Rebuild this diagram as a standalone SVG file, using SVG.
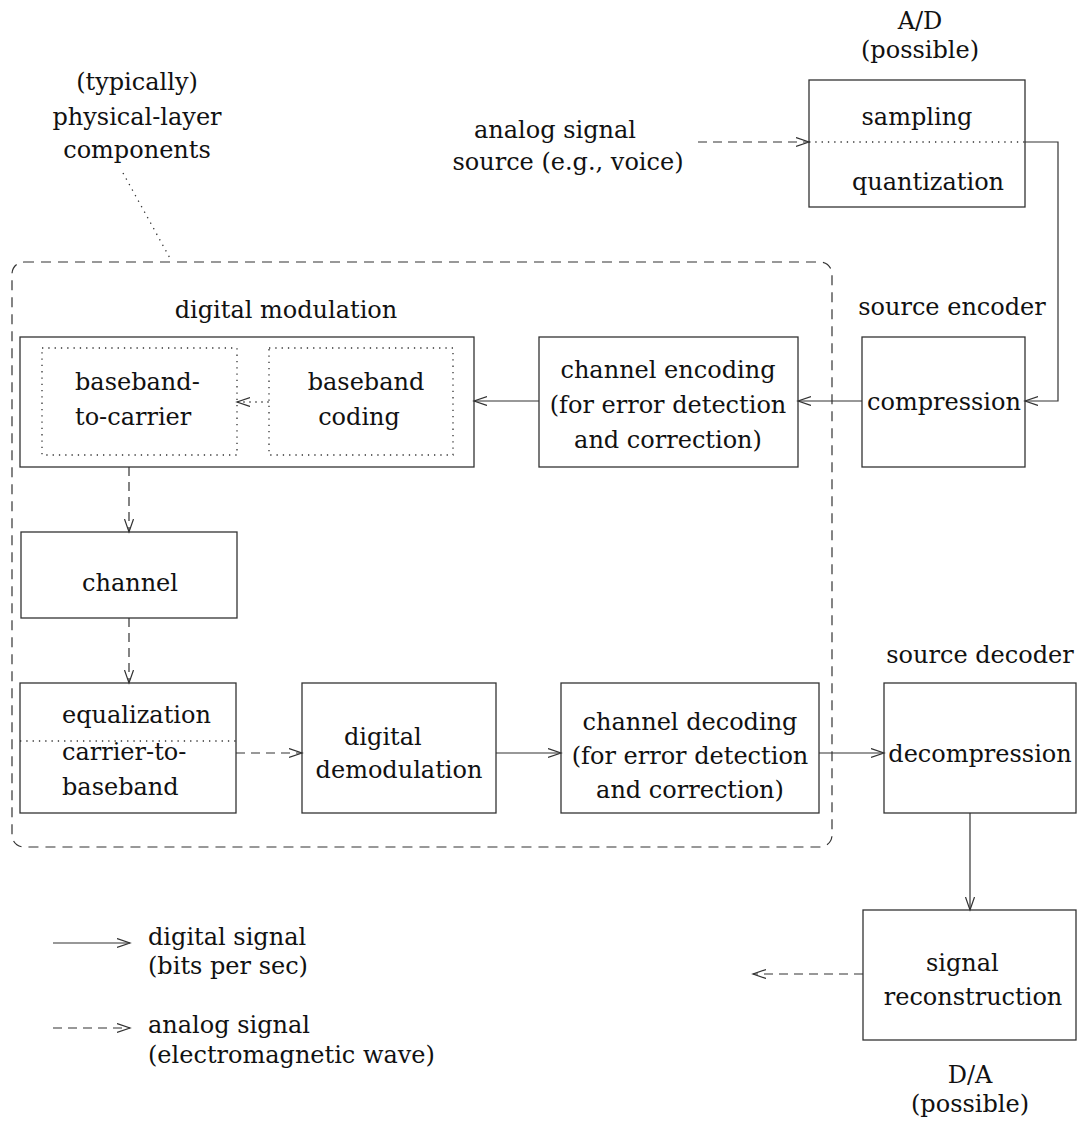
<svg xmlns="http://www.w3.org/2000/svg" width="1087" height="1128" viewBox="0 0 1087 1128">
<style>
text{font-family:'DejaVu Serif','Liberation Serif',serif;font-size:24px;fill:#111}
.c{text-anchor:middle}
.box{fill:none;stroke:#333;stroke-width:1.3}
.dot{fill:none;stroke:#333;stroke-width:1.3;stroke-dasharray:1.3 5}
.sol{fill:none;stroke:#333;stroke-width:1.2}
.dash{fill:none;stroke:#333;stroke-width:1.2;stroke-dasharray:9 6}
</style>
<defs>
<marker id="ah" markerUnits="userSpaceOnUse" markerWidth="16" markerHeight="12" refX="13" refY="5" orient="auto">
<path d="M0,0.5 L13,5 L0,9.5" fill="none" stroke="#333" stroke-width="1.2"/>
</marker>
</defs>
<rect width="1087" height="1128" fill="#fff"/>

<g id="annotation">
<text class="c" x="137" y="90">(typically)</text>
<text class="c" x="137" y="125">physical-layer</text>
<text class="c" x="137" y="158">components</text>
</g>

<g id="physical-layer-group">
<rect x="12" y="262" width="820" height="585" rx="12" ry="12" fill="none" stroke="#333" stroke-width="1.2" stroke-dasharray="10 7"/>
</g>

<g id="ad-label">
<text class="c" x="920" y="29">A/D</text>
<text class="c" x="920" y="58">(possible)</text>
</g>

<g id="analog-source">
<text class="c" x="555" y="138">analog signal</text>
<text class="c" x="568" y="170">source (e.g., voice)</text>
</g>

<g id="ad-box">
<rect class="box" x="809" y="80" width="216" height="127"/>
<line class="dot" x1="809" y1="142" x2="1025" y2="142"/>
<text class="c" x="917" y="125">sampling</text>
<text class="c" x="928" y="190">quantization</text>
</g>

<g id="source-encoder">
<text class="c" x="952" y="315">source encoder</text>
<rect class="box" x="862" y="337" width="163" height="130"/>
<text class="c" x="944" y="410">compression</text>
</g>

<g id="channel-encoding">
<rect class="box" x="539" y="337" width="259" height="130"/>
<text class="c" x="668" y="378">channel encoding</text>
<text class="c" x="668" y="413">(for error detection</text>
<text class="c" x="668" y="448">and correction)</text>
</g>

<g id="digital-modulation">
<text class="c" x="286" y="318">digital modulation</text>
<rect class="box" x="20" y="337" width="454" height="130"/>
</g>

<g id="baseband-to-carrier">
<rect class="dot" x="42" y="348" width="195" height="107"/>
<text x="75" y="390">baseband-</text>
<text x="75" y="425">to-carrier</text>
</g>

<g id="baseband-coding">
<rect class="dot" x="269" y="348" width="184" height="107"/>
<text class="c" x="366" y="390">baseband</text>
<text class="c" x="359" y="425">coding</text>
</g>

<g id="channel">
<rect class="box" x="21" y="532" width="216" height="86"/>
<text class="c" x="130" y="591">channel</text>
</g>

<g id="equalization">
<rect class="box" x="20" y="683" width="216" height="130"/>
<line class="dot" x1="20" y1="741" x2="236" y2="741"/>
<text x="62" y="723">equalization</text>
<text x="62" y="760">carrier-to-</text>
<text x="62" y="795">baseband</text>
</g>

<g id="digital-demodulation">
<rect class="box" x="302" y="683" width="194" height="130"/>
<text x="344" y="745">digital</text>
<text class="c" x="399" y="778">demodulation</text>
</g>

<g id="channel-decoding">
<rect class="box" x="561" y="683" width="258" height="130"/>
<text class="c" x="690" y="730">channel decoding</text>
<text class="c" x="690" y="764">(for error detection</text>
<text class="c" x="690" y="798">and correction)</text>
</g>

<g id="source-decoder">
<text class="c" x="980" y="663">source decoder</text>
<rect class="box" x="884" y="683" width="192" height="130"/>
<text class="c" x="980" y="762">decompression</text>
</g>

<g id="signal-reconstruction">
<rect class="box" x="863" y="910" width="213" height="130"/>
<text x="926" y="971">signal</text>
<text class="c" x="973" y="1005">reconstruction</text>
</g>

<g id="da-label">
<text class="c" x="970" y="1083">D/A</text>
<text class="c" x="970" y="1112">(possible)</text>
</g>

<g id="legend">
<line class="sol" x1="53" y1="943" x2="130" y2="943" marker-end="url(#ah)"/>
<text x="148" y="945">digital signal</text>
<text x="148" y="974">(bits per sec)</text>
<line class="dash" x1="53" y1="1028" x2="130" y2="1028" marker-end="url(#ah)"/>
<text x="148" y="1033">analog signal</text>
<text x="148" y="1063">(electromagnetic wave)</text>
</g>

<g id="connectors">
<line class="dot" x1="123" y1="173" x2="171" y2="260"/>
<line class="dash" x1="698" y1="142" x2="809" y2="142" marker-end="url(#ah)"/>
<path class="sol" d="M1025,142 H1058 V401 H1025" marker-end="url(#ah)"/>
<line class="sol" x1="862" y1="401" x2="798" y2="401" marker-end="url(#ah)"/>
<line class="sol" x1="539" y1="401" x2="474" y2="401" marker-end="url(#ah)"/>
<line x1="269" y1="402" x2="237" y2="402" fill="none" stroke="#333" stroke-width="1.2" stroke-dasharray="2 4" marker-end="url(#ah)"/>
<line class="dash" x1="129" y1="467" x2="129" y2="532" marker-end="url(#ah)"/>
<line class="dash" x1="129" y1="618" x2="129" y2="683" marker-end="url(#ah)"/>
<line class="dash" x1="236" y1="753" x2="302" y2="753" marker-end="url(#ah)"/>
<line class="sol" x1="496" y1="753" x2="561" y2="753" marker-end="url(#ah)"/>
<line class="sol" x1="819" y1="753" x2="884" y2="753" marker-end="url(#ah)"/>
<line class="sol" x1="970" y1="813" x2="970" y2="910" marker-end="url(#ah)"/>
<line class="dash" x1="863" y1="974" x2="753" y2="974" marker-end="url(#ah)"/>
</g>
</svg>
